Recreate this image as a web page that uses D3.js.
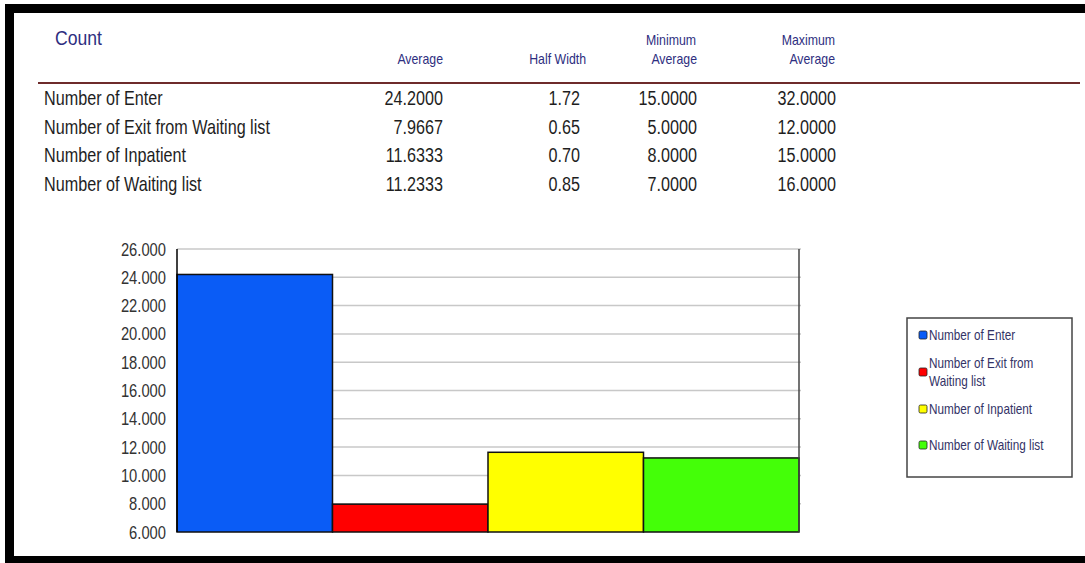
<!DOCTYPE html>
<html><head><meta charset="utf-8">
<script src="https://cdn.jsdelivr.net/npm/d3@7"></script>
<style>html,body{margin:0;padding:0;background:#fff;}svg{display:block;}</style>
</head><body>
<svg id="c" width="1085" height="563"></svg>
<script>
// ---- data ----
const categories = ["Number of Enter","Number of Exit from Waiting list","Number of Inpatient","Number of Waiting list"];
const averages = [24.2000, 7.9667, 11.6333, 11.2333];
const halfWidths = [1.72, 0.65, 0.70, 0.85];
const minAverages = [15.0000, 5.0000, 8.0000, 7.0000];
const maxAverages = [32.0000, 12.0000, 15.0000, 16.0000];
const legendLabels = [["Number of Enter"],["Number of Exit from","Waiting list"],["Number of Inpatient"],["Number of Waiting list"]];
const colors = ["#0a5cf6","#ff0000","#ffff00","#44ff08"];
const yTicks = [6,8,10,12,14,16,18,20,22,24,26];
const yTickLabels = ["6.000","8.000","10.000","12.000","14.000","16.000","18.000","20.000","22.000","24.000","26.000"];

const svg = d3.select("#c");
const FONT = "'Liberation Sans', Arial, sans-serif";

function txt(x, y, s, size, sx, anchor, color, sy) {
  return svg.append("text")
    .attr("transform", `translate(${x},${y}) scale(${sx},${sy||1})`)
    .attr("font-family", FONT).attr("font-size", size)
    .attr("text-anchor", anchor).attr("fill", color).text(s);
}

// frame
svg.append("rect").attr("x",5).attr("y",4).attr("width",1080).attr("height",9).attr("fill","#000");
svg.append("rect").attr("x",5).attr("y",4).attr("width",9).attr("height",559).attr("fill","#000");
svg.append("rect").attr("x",5).attr("y",556).attr("width",1080).attr("height",7).attr("fill","#000");

// table header
const navy = "#2e2e80";
txt(55, 45, "Count", 20, 0.88, "start", navy);
txt(443, 64, "Average", 14, 0.88, "end", navy);
txt(586, 64, "Half Width", 14, 0.88, "end", navy);
txt(696, 45, "Minimum", 14, 0.88, "end", navy);
txt(697, 64, "Average", 14, 0.88, "end", navy);
txt(835, 45, "Maximum", 14, 0.88, "end", navy);
txt(835, 64, "Average", 14, 0.88, "end", navy);
svg.append("line").attr("x1",38).attr("x2",1080).attr("y1",83).attr("y2",83)
  .attr("stroke","#6e2b2b").attr("stroke-width",2);

// table rows
const rowY = d3.scalePoint().domain(categories).range([105, 191]);
const body = "#1e1e1e";
categories.forEach((c, i) => {
  const y = rowY(c);
  txt(44, y, c, 19.5, 0.83, "start", body);
  txt(443, y, averages[i].toFixed(4), 19.5, 0.83, "end", body);
  txt(580, y, halfWidths[i].toFixed(2), 19.5, 0.83, "end", body);
  txt(697, y, minAverages[i].toFixed(4), 19.5, 0.83, "end", body);
  txt(836, y, maxAverages[i].toFixed(4), 19.5, 0.83, "end", body);
});

// chart
const x = d3.scaleBand().domain(categories).range([177, 799]).padding(0);
const y = d3.scaleLinear().domain([6, 26]).range([532, 249]);

svg.append("g").selectAll("line").data(yTicks.slice(1)).join("line")
  .attr("x1", 177).attr("x2", 801).attr("y1", d => y(d)).attr("y2", d => y(d))
  .attr("stroke", "#c8c8c8").attr("stroke-width", 1.5);

svg.append("g").selectAll("rect").data(averages).join("rect")
  .attr("x", (d, i) => x(categories[i]))
  .attr("width", x.bandwidth())
  .attr("y", d => y(d))
  .attr("height", d => y(6) - y(d))
  .attr("fill", (d, i) => colors[i])
  .attr("stroke", "#111").attr("stroke-width", 1.5);

svg.append("line").attr("x1",177).attr("x2",177).attr("y1",y(26)).attr("y2",y(6))
  .attr("stroke","#000").attr("stroke-width",1.5);
svg.append("line").attr("x1",799).attr("x2",799).attr("y1",y(26)).attr("y2",y(6))
  .attr("stroke","#444").attr("stroke-width",1.5);

yTicks.forEach((t, i) => {
  txt(166, y(t) + 6.5, yTickLabels[i], 18, 0.82, "end", "#333");
});

// legend
svg.append("rect").attr("x",907).attr("y",318).attr("width",165).attr("height",159)
  .attr("fill","#fff").attr("stroke","#444").attr("stroke-width",1.5);
const legCenters = [[335],[363,381],[409],[445]];
const markerY = [335, 372, 409, 445];
legendLabels.forEach((lines, i) => {
  svg.append("rect").attr("x",919).attr("y",markerY[i]-4).attr("width",8).attr("height",8)
    .attr("rx",1.5).attr("fill",colors[i]).attr("stroke","#222").attr("stroke-width",0.8);
  lines.forEach((l, j) => {
    txt(929, legCenters[i][j] + 5, l, 14, 0.84, "start", "#333366");
  });
});
</script>
</body></html>
